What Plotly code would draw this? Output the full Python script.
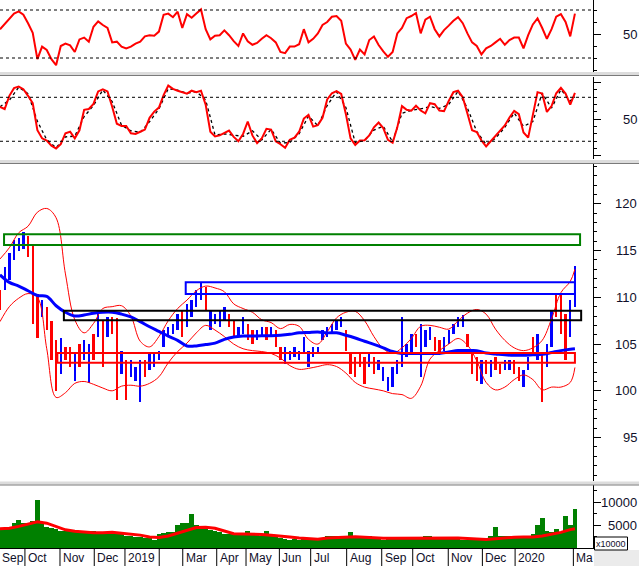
import numpy as np
import plotly.graph_objects as go

# ---------------- data (trading-day index; 0 = late Aug 2018) ----------------
# 3-day sampled series
rsi = [53.9, 58, 62, 67, 68.8, 66, 59, 51, 29, 39.5,
       36.7, 29, 24, 40, 42, 40.5, 35, 45.5, 47, 43.6,
       56, 60.5, 57.5, 55, 43, 43.6, 39.5, 38, 39.5, 42,
       43.6, 48, 49, 48.5, 52, 66, 67, 64, 68.6, 55,
       66.5, 63.5, 67, 70.5, 54, 45.5, 48.5, 49, 53, 49,
       44, 40, 50.5, 44, 41, 42.5, 46, 49, 46.5, 43,
       35, 34, 39.5, 39.5, 41.5, 54, 43, 46, 50.5, 57.5,
       60, 64.4, 65, 61, 42, 37, 28.5, 37, 33, 45,
       48, 40.8, 35.5, 31, 35, 50.5, 55, 63.2, 65, 67.5,
       50.5, 62, 64.4, 54, 48, 53.3, 57, 61, 64, 59,
       50.5, 43, 40, 33, 38, 40, 43, 46, 41, 45,
       47, 47, 38, 49, 58, 63, 55, 46, 54, 64.4,
       66.5, 60, 48, 67]

stoch_k = [67, 64, 82, 92.5, 94.5, 91, 82, 72, 35, 24,
           21, 14, 10, 16, 31, 33, 24, 35, 63, 64,
           71, 88, 91, 88, 67, 44, 41, 41, 31, 30,
           33, 36, 52, 60.5, 66, 83, 96, 91.5, 89, 86.5,
           85, 89, 87, 89, 70, 33, 26.5, 28, 31, 34.5,
           26, 20, 30, 47, 28, 17.5, 24, 37, 36, 20,
           16, 11, 22, 25, 33, 51, 56, 40, 42, 52,
           77, 85.5, 88.5, 84.5, 57, 24, 15, 21, 21.5, 28,
           39, 45.5, 38, 22, 18, 39, 68, 63, 61.7, 68.5,
           62, 58, 72, 70.5, 62, 61, 75, 87, 89, 80,
           58, 35, 32.5, 21, 13, 20, 26, 34, 41.5, 52.5,
           61.5, 57, 32, 25, 58, 87, 85, 60, 68, 85.5,
           93, 85, 70, 86]

bar_hi = [110.8, 113.2, 114.7, 116.1, 116.3, 117.0, 116.6, 115.6, 110.4, 109.7,
          109.0, 107.5, 105.4, 105.7, 104.7, 104.7, 104.0, 105.0, 105.4, 105.0,
          106.1, 108.25, 107.5, 107.9, 107.9, 107.8, 104.3, 103.3, 103.3, 102.5,
          103.3, 103.3, 104.0, 104.0, 104.3, 106.5, 106.8, 107.2, 108.25, 108.6,
          109.3, 109.7, 110.75, 111.5, 111.1, 108.6, 108.25, 108.6, 109.0, 108.25,
          107.5, 106.8, 107.9, 107.2, 106.5, 106.5, 106.8, 106.8, 106.8, 106.5,
          104.7, 104.7, 104.3, 104.7, 104.3, 105.75, 104.3, 104.7, 104.7, 106.5,
          106.8, 107.2, 107.5, 107.9, 106.5, 104.0, 103.6, 104.0, 103.6, 104.0,
          103.6, 103.3, 102.5, 101.5, 102.5, 103.3, 107.9, 105.0, 106.1, 106.1,
          107.2, 106.5, 106.8, 105.75, 105.4, 105.75, 106.5, 107.2, 107.9, 108.1,
          106.1, 104.3, 103.6, 103.3, 103.3, 103.3, 103.6, 102.9, 103.3, 103.3,
          103.3, 102.5, 102.2, 103.6, 105.75, 106.1, 104.0, 105.0, 108.6, 110.4,
          110.4, 108.25, 109.7, 113.3]
bar_lo = [108.6, 110.8, 111.8, 114.0, 115.0, 115.2, 114.3, 107.2, 105.7, 107.9,
          106.5, 103.3, 100.0, 101.8, 103.3, 102.5, 101.1, 102.5, 103.3, 100.8,
          103.3, 105.75, 102.5, 105.75, 106.1, 99.0, 101.8, 99.0, 101.5, 101.1,
          98.8, 101.5, 102.2, 102.5, 103.3, 104.7, 105.75, 106.1, 106.5, 105.75,
          106.8, 107.9, 109.0, 109.7, 108.6, 106.5, 107.2, 106.8, 107.5, 106.8,
          105.75, 105.75, 106.1, 105.4, 105.0, 105.4, 105.75, 105.4, 105.75, 104.7,
          103.3, 102.9, 103.3, 103.6, 103.3, 104.0, 102.5, 103.6, 104.0, 105.4,
          105.75, 106.1, 106.5, 106.8, 104.3, 101.8, 101.5, 102.5, 100.75, 102.5,
          101.8, 102.2, 101.1, 100.0, 100.4, 101.8, 102.5, 103.6, 104.0, 104.7,
          101.5, 104.7, 105.4, 104.3, 104.0, 104.3, 105.0, 106.1, 106.8, 106.8,
          104.7, 101.8, 101.1, 100.75, 101.8, 101.5, 102.2, 101.8, 102.2, 102.2,
          101.8, 101.1, 100.4, 102.2, 104.0, 103.3, 98.8, 102.5, 104.7, 107.9,
          106.1, 103.3, 105.75, 109.0]
bar_up = [0, 1, 1, 1, 1, 1, 0, 0, 0, 1,
          0, 0, 0, 1, 0, 0, 1, 0, 1, 1,
          0, 1, 0, 1, 0, 0, 1, 0, 1, 1,
          1, 0, 1, 1, 1, 1, 1, 1, 1, 0,
          1, 1, 1, 1, 0, 1, 1, 1, 1, 0,
          0, 1, 1, 0, 0, 1, 1, 0, 1, 0,
          0, 1, 1, 1, 1, 1, 1, 1, 1, 1,
          1, 1, 1, 1, 0, 0, 0, 0, 0, 1,
          0, 1, 1, 1, 1, 1, 1, 1, 1, 0,
          1, 1, 1, 0, 0, 1, 1, 1, 1, 1,
          0, 0, 0, 1, 0, 1, 0, 0, 1, 1,
          0, 0, 1, 1, 0, 1, 0, 1, 1, 0,
          0, 0, 1, 1]

volume = [4200, 4300, 4500, 5500, 6100, 5400, 5300, 5800, 10500, 5700,
          4500, 4300, 4100, 3800, 3800, 3600, 3400, 3200, 3200, 3300,
          3800, 3500, 3300, 3050, 3100, 3300, 3300, 2640, 2640, 2500,
          2400, 2250, 2100, 1840, 3050, 3300, 3400, 3400, 5000, 5350,
          5350, 7300, 5000, 4700, 4300, 3950, 3800, 3500, 3000, 3000,
          3000, 2900, 3100, 3800, 3000, 2800, 2640, 3600, 2640, 2400,
          2250, 2000, 1840, 2000, 1840, 2250, 1840, 1840, 1840, 2200,
          2640, 2640, 2640, 2640, 2640, 3400, 2400, 2400, 2400, 2640,
          2100, 2000, 1840, 2250, 2100, 2100, 2100, 2250, 2100, 2250,
          2100, 2640, 2640, 2400, 2250, 2400, 2250, 2250, 2100, 1840,
          1840, 1840, 1840, 1840, 1840, 2640, 4520, 2640, 2640, 2640,
          2400, 2250, 2640, 2640, 3050, 5000, 6500, 3800, 3400, 4200,
          3400, 6900, 5000, 8450]

# 6-day sampled smooth series (last point = last session)
stoch_d = [67, 76, 93.8, 85, 47.3, 22, 11.3, 26, 27, 53.7,
           68.7, 90, 74, 42, 34.3, 32, 46.7, 64.2, 91.7, 89.8,
           85.5, 87.7, 76.3, 28.7, 30, 28.8, 26.7, 34.3, 21.8, 36.3,
           17.3, 18.3, 30.3, 54.3, 41.3, 68.7, 87.5, 66.2, 18, 21.3,
           35.3, 40.5, 19.3, 58.3, 62.1, 64.2, 67.3, 64.8, 70.3, 88.3,
           65.3, 33.3, 15.7, 24, 39, 58.5, 40.3, 47, 85.7, 65.3,
           90.5, 75, 80.7]
ma_line = [112.4, 111.6, 111.2, 110.7, 110.2, 110.1, 109.1, 108.4, 108.0, 108.1,
           108.3, 108.4, 108.4, 108.2, 107.9, 107.4, 106.85, 106.35, 105.85, 105.4,
           104.8, 104.8, 104.95, 105.1, 105.5, 105.75, 105.85, 105.86, 105.88, 105.9,
           105.95, 106.05, 106.2, 106.25, 106.3, 106.2, 106.2, 105.95, 105.65, 105.3,
           104.97, 104.6, 104.2, 104.0, 104.0, 104.0, 104.0, 104.0, 104.15, 104.3,
           104.3, 104.3, 104.05, 103.95, 103.85, 103.8, 103.8, 103.85, 103.9, 104.1,
           104.3, 104.45, 104.5]
bb_upper = [114.1, 115.3, 116.9, 117.6, 119.1, 119.5, 118.5, 112.5, 107.6, 106.2,
            107.2, 108.8, 109.0, 109.1, 108.0, 105.3, 104.7, 105.8, 107.5, 108.8,
            109.7, 110.7, 111.2, 111.0, 110.6, 109.3, 108.8, 108.4, 107.6, 107.3,
            106.65, 107.1, 106.9, 105.5, 105.0, 106.3, 107.8, 108.4, 108.5, 107.5,
            105.8, 104.5, 104.0, 104.6, 105.6, 106.9, 107.0, 106.8, 106.6, 107.5,
            108.3, 108.7, 108.2, 106.6, 105.4, 104.6, 104.3, 104.6, 105.4, 107.7,
            110.5, 111.7, 113.0]
bb_lower = [107.4, 109.0, 109.9, 110.4, 110.0, 104.5, 99.3, 99.8, 100.8, 101.0,
            100.7, 100.3, 100.0, 100.5, 100.6, 100.5, 100.8, 101.5, 103.0, 104.2,
            105.1, 106.2, 107.0, 106.5, 105.8, 105.0, 104.5, 104.3, 104.2, 104.0,
            103.5, 102.7, 102.3, 102.4, 102.6, 102.8, 102.6, 101.9, 100.9, 100.4,
            100.2, 100.0, 99.7, 99.6, 99.2, 100.5, 103.4, 104.3, 105.0, 105.6,
            104.9, 103.2, 100.9, 100.1, 100.4, 101.2, 101.7, 101.2, 100.1, 100.4,
            100.4, 100.9, 102.5]
vol_ma = [4200, 4300, 4700, 5200, 5700, 5400, 4650, 3950, 3650, 3450,
          3300, 3300, 3400, 3200, 3000, 2800, 2400, 2300, 2600, 3200,
          3950, 4450, 4520, 4300, 3700, 3100, 3050, 3050, 2950, 2750,
          2640, 2400, 2150, 2100, 1900, 2150, 2300, 2400, 2450, 2350,
          2200, 2100, 2100, 2100, 2100, 2100, 2250, 2250, 2250, 2150,
          2050, 1950, 1850, 2000, 2250, 2350, 2400, 2400, 2600, 3000,
          3400, 4000, 4200]

# month boundaries (trading-day index) and labels
month_pos = [-4.2, 16.0, 38.5, 60.5, 80.2, 102.2, 117.3, 139.1, 157.9, 179.3,
             199.4, 222.5, 245.0, 264.9, 287.7, 309.6, 330.6, 368.0]
month_lab = ["Sep", "Oct", "Nov", "Dec", "2019", "", "Mar", "Apr", "May", "Jun",
             "Jul", "Aug", "Sep", "Oct", "Nov", "Dec", "2020", "Ma"]

# support / resistance zones
zone_start = [2.6, 119.2, 41.0, 36.8]
zone_end = [372.3, 369.0, 373.0, 369.0]
zone_lo = [115.6, 110.35, 107.55, 103.0]
zone_hi = [116.75, 111.6, 108.55, 104.05]
zone_col = ["#008000", "#0000ff", "#000000", "#ff0000"]

# ---------------- figure ----------------
W, H = 639, 566
PR = 593.0  # right edge of plotting area (px)


def py(p):
    return 1 - p / H


def pxp(p):
    return p / PR


d3 = np.arange(len(rsi)) * 3
d6 = np.append(np.arange(0, 367, 6), 369)
hi = np.array(bar_hi)
lo = np.array(bar_lo)
up = np.array(bar_up) == 1

fig = go.Figure()
# RSI
fig.add_trace(go.Scatter(x=d3, y=rsi, mode="lines", line=dict(color="#ff0000", width=2),
                         xaxis="x", yaxis="y"))
# Stochastic
fig.add_trace(go.Scatter(x=d6, y=stoch_d, mode="lines", line=dict(color="#000000", width=1.3, dash="dot"),
                         xaxis="x2", yaxis="y2"))
fig.add_trace(go.Scatter(x=d3, y=stoch_k, mode="lines", line=dict(color="#ff0000", width=2),
                         xaxis="x2", yaxis="y2"))
# Price
fig.add_trace(go.Scatter(x=d6, y=bb_upper, mode="lines", line=dict(color="#ff0000", width=1, shape="spline"),
                         xaxis="x3", yaxis="y3"))
fig.add_trace(go.Scatter(x=d6, y=bb_lower, mode="lines", line=dict(color="#ff0000", width=1, shape="spline"),
                         xaxis="x3", yaxis="y3"))
fig.add_trace(go.Bar(x=d3[up], base=lo[up], y=(hi - lo)[up], width=1.5,
                     marker=dict(color="#0000ff", line=dict(width=0)), xaxis="x3", yaxis="y3"))
fig.add_trace(go.Bar(x=d3[~up], base=lo[~up], y=(hi - lo)[~up], width=1.5,
                     marker=dict(color="#ff0000", line=dict(width=0)), xaxis="x3", yaxis="y3"))
fig.add_trace(go.Scatter(x=d6, y=ma_line, mode="lines", line=dict(color="#0000ff", width=3, shape="spline"),
                         xaxis="x3", yaxis="y3"))
# Volume
fig.add_trace(go.Bar(x=d3, y=volume, width=3, marker=dict(color="#008000", line=dict(width=0)),
                     xaxis="x4", yaxis="y4"))
fig.add_trace(go.Scatter(x=d6, y=vol_ma, mode="lines", line=dict(color="#ff0000", width=3),
                         xaxis="x4", yaxis="y4"))

xr = [0, 380.6]
common_x = dict(range=xr, visible=False, domain=[0, 1])


def yax(dom, rng, major, minor):
    return dict(domain=dom, range=rng, side="right", showline=True, linecolor="black", linewidth=1,
                ticks="outside", ticklen=7, tickcolor="black", tickvals=major, showticklabels=False,
                showgrid=False, zeroline=False, fixedrange=True,
                minor=dict(tickvals=minor, ticks="outside", ticklen=3, tickcolor="black", showgrid=False))


fig.update_layout(
    width=W, height=H, margin=dict(l=0, r=W - PR, t=0, b=0),
    paper_bgcolor="white", plot_bgcolor="white", showlegend=False,
    barmode="overlay", bargap=0,
    xaxis=dict(common_x, anchor="y"),
    xaxis2=dict(common_x, anchor="y2"),
    xaxis3=dict(common_x, anchor="y3"),
    xaxis4=dict(range=xr, domain=[0, 1], anchor="y4", showline=True, linecolor="black",
                showticklabels=False, ticks="", showgrid=False, zeroline=False),
    yaxis=yax([py(72), 1], [18.33, 78.33], [50], [20, 30, 40, 60, 70]),
    yaxis2=yax([py(159), py(77)], [-4.2, 107.7], [0, 50, 100], [10, 20, 30, 40, 60, 70, 80, 90]),
    yaxis3=yax([py(481), py(163)], [90.36, 124.36], [95, 100, 105, 110, 115, 120],
               [v for v in range(91, 125) if v % 5]),
    yaxis4=yax([py(548), py(485)], [0, 13700], [5000, 10000], [2500, 7500, 12500]),
)

shapes = []
# dotted reference lines
for yv, yr in [(70, "y"), (30, "y"), (80, "y2"), (20, "y2")]:
    shapes.append(dict(type="line", xref="x domain" if yr == "y" else "x2 domain", x0=0, x1=1,
                       yref=yr, y0=yv, y1=yv, line=dict(color="black", width=1, dash="3px,3px")))
# zones
for s, e, l, h, c in zip(zone_start, zone_end, zone_lo, zone_hi, zone_col):
    shapes.append(dict(type="rect", xref="x3", yref="y3", x0=s, x1=e, y0=l, y1=h,
                       line=dict(color=c, width=2), fillcolor="rgba(0,0,0,0)", layer="above"))
# panel separators
for top in [72, 160, 481.5]:
    shapes.append(dict(type="rect", xref="paper", yref="paper", x0=0, x1=W / PR,
                       y0=py(top + 3), y1=py(top), fillcolor="#dcdcdc", line=dict(width=0), layer="above"))
    shapes.append(dict(type="line", xref="paper", yref="paper", x0=0, x1=W / PR,
                       y0=py(top + 3.5), y1=py(top + 3.5), line=dict(color="#7a7a7a", width=1.2), layer="above"))
# date separators
for m in month_pos:
    shapes.append(dict(type="line", xref="x4", yref="paper", x0=m, x1=m, y0=py(566), y1=py(549),
                       line=dict(color="black", width=1)))
# bottom-right boxes
shapes.append(dict(type="rect", xref="paper", yref="paper", x0=pxp(594), x1=W / PR, y0=0, y1=py(550),
                   fillcolor="#ebebeb", line=dict(width=0), layer="above"))
shapes.append(dict(type="rect", xref="paper", yref="paper", x0=pxp(594.5), x1=pxp(627.5), y0=py(550), y1=py(537),
                   fillcolor="white", line=dict(color="black", width=1), layer="above"))
fig.update_layout(shapes=shapes)

ann = []
lab_font = dict(family="Liberation Sans, Arial, sans-serif", size=13, color="#10102a")
date_font = dict(family="Liberation Sans, Arial, sans-serif", size=12, color="#10102a")
for yr, vals in [("y", [50]), ("y2", [50]), ("y3", [120, 115, 110, 105, 100, 95]), ("y4", [10000, 5000])]:
    for v in vals:
        ann.append(dict(xref="paper", yref=yr, x=638.5 / PR, y=v, text=str(v), showarrow=False,
                        xanchor="right", yanchor="middle", font=lab_font))
for m, t in zip(month_pos, month_lab):
    if not t:
        continue
    if m < 0:
        # first month starts just before the visible window
        ann.append(dict(xref="paper", yref="paper", x=0, y=py(558), text=t, showarrow=False,
                        xanchor="left", yanchor="middle", xshift=0, font=date_font))
    else:
        ann.append(dict(xref="x4", yref="paper", x=m, y=py(558), text=t, showarrow=False,
                        xanchor="left", yanchor="middle", xshift=1, font=date_font))
ann.append(dict(xref="paper", yref="paper", x=pxp(611), y=py(543.5), text="x10000", showarrow=False,
                xanchor="center", yanchor="middle",
                font=dict(family="Liberation Sans, Arial, sans-serif", size=9, color="#10102a")))
fig.update_layout(annotations=ann)

fig.write_html("out.html", config={"displayModeBar": False},
               post_script="document.body.style.margin='0';document.body.style.overflow='hidden';")
